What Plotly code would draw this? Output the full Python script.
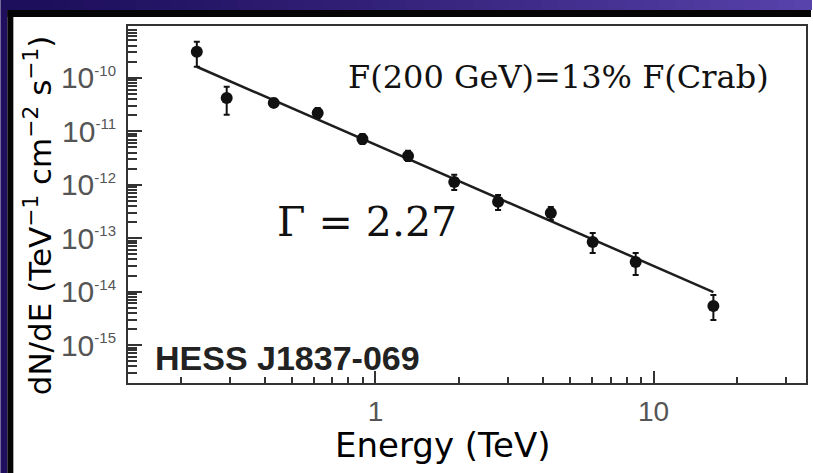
import math
import plotly.graph_objects as go

# HESS J1837-069 differential spectrum
energy_tev = [0.228, 0.292, 0.431, 0.62, 0.898, 1.31, 1.92, 2.76, 4.27, 6.04, 8.62, 16.4]
flux = [3.07e-10, 4.2e-11, 3.4e-11, 2.2e-11, 7.2e-12, 3.46e-12, 1.13e-12,
        4.8e-13, 2.96e-13, 8.5e-14, 3.58e-14, 5.4e-15]
flux_hi = [4.72e-10, 6.78e-11, 4.05e-11, 2.74e-11, 8.93e-12, 4.30e-12, 1.53e-12,
           6.44e-13, 3.84e-13, 1.25e-13, 5.28e-14, 8.63e-15]
flux_lo = [1.61e-10, 2.03e-11, 2.86e-11, 1.78e-11, 5.81e-12, 2.79e-12, 8.0e-13,
           3.37e-13, 2.19e-13, 5.28e-14, 2.05e-14, 2.94e-15]

# power-law fit: dN/dE = N0 * E^-gamma
gamma = 2.27
norm_1tev = 5.62e-12
fit_range = [0.228, 16.4]

x_ticks = [1, 10]
x_ticktext = ["1", "10"]
y_exponents = [-15, -14, -13, -12, -11, -10]
y_ticks = [10.0 ** e for e in y_exponents]
y_ticktext = ["10<sup><span style='font-size:15px'>{}</span></sup>".format(e)
              for e in y_exponents]

W, H = 813, 473
L, R, T, B = 128, 5, 26, 90
PW, PH = W - L - R, H - T - B


def px(x):
    return (x - L) / PW


def py(y):
    return (H - B - y) / PH


fit_y = [norm_1tev * e ** (-gamma) for e in fit_range]

fig = go.Figure()
fig.add_trace(go.Scatter(
    x=fit_range, y=fit_y, mode="lines",
    line=dict(color="#1e1e1e", width=2.5), hoverinfo="skip"))
fig.add_trace(go.Scatter(
    x=energy_tev, y=flux, mode="markers",
    marker=dict(color="#111111", size=12),
    error_y=dict(type="data", symmetric=False,
                 array=[h - f for h, f in zip(flux_hi, flux)],
                 arrayminus=[f - l for f, l in zip(flux, flux_lo)],
                 color="#111111", thickness=2, width=3)))

# slide frame: purple band on top and left, thin black border
shapes = []
n = 48
c0, c1 = (30, 15, 92), (88, 66, 172)
for i in range(n):
    t = i / (n - 1)
    col = "rgb({},{},{})".format(*[int(a + (b - a) * t ** 1.3) for a, b in zip(c0, c1)])
    shapes.append(dict(type="rect", xref="paper", yref="paper", layer="below",
                       x0=px(i * W / n), x1=px((i + 1) * W / n + 1),
                       y0=py(10), y1=py(0), line=dict(width=0), fillcolor=col))
shapes.append(dict(type="rect", xref="paper", yref="paper", layer="below",
                   x0=px(0), x1=px(7), y0=py(H), y1=py(10),
                   line=dict(width=0), fillcolor="rgb(32,15,95)"))
shapes.append(dict(type="rect", xref="paper", yref="paper", layer="below",
                   x0=px(7), x1=px(W), y0=py(17), y1=py(10),
                   line=dict(width=0), fillcolor="#050505"))
shapes.append(dict(type="rect", xref="paper", yref="paper", layer="below",
                   x0=px(7), x1=px(13), y0=py(H), y1=py(10),
                   line=dict(width=0), fillcolor="#050505"))

minor_x = [k * 10 ** d for d in (-1, 0, 1) for k in range(2, 10)]
minor_y = [k * 10 ** d for d in range(-16, -8) for k in range(2, 10)]


def label(x, y, text, family, size, color="#111", **kw):
    return dict(xref="paper", yref="paper", x=px(x), y=py(y), text=text,
                showarrow=False, xanchor=kw.pop("xanchor", "center"),
                yanchor="middle", font=dict(family=family, size=size, color=color), **kw)


fig.update_layout(
    width=W, height=H, margin=dict(l=L, r=R, t=T, b=B),
    paper_bgcolor="white", plot_bgcolor="white", showlegend=False,
    shapes=shapes,
    xaxis=dict(type="log", range=[math.log10(0.129), math.log10(35.3)],
               tickmode="array", tickvals=x_ticks, ticktext=x_ticktext,
               ticks="inside", ticklen=12, tickwidth=1.5, tickcolor="#333",
               minor=dict(tickmode="array", tickvals=minor_x, ticks="inside",
                          ticklen=6, tickwidth=1.5, tickcolor="#333", showgrid=False),
               showgrid=False, zeroline=False,
               showline=True, linecolor="#333", linewidth=2, mirror=True,
               ticklabelstandoff=2,
               tickfont=dict(family="Liberation Sans", size=28, color="#555")),
    yaxis=dict(type="log", range=[-15.71, -9.03],
               tickmode="array", tickvals=y_ticks, ticktext=y_ticktext,
               ticks="inside", ticklen=14, tickwidth=2, tickcolor="#333",
               minor=dict(tickmode="array", tickvals=minor_y, ticks="inside",
                          ticklen=9, tickwidth=1.5, tickcolor="#333", showgrid=False),
               showgrid=False, zeroline=False,
               showline=True, linecolor="#333", linewidth=2, mirror=True,
               ticklabelstandoff=4,
               tickfont=dict(family="Liberation Sans", size=30, color="#555")),
    annotations=[
        label(560, 77, "F(200 GeV)=13% F(Crab)", "DejaVu Serif", 32),
        label(368, 222, "Γ = 2.27", "DejaVu Serif", 41),
        label(153, 358, "<b>HESS J1837-069</b>", "Liberation Sans", 34,
              color="#222", xanchor="left"),
        label(444, 445, "Energy (TeV)", "DejaVu Sans", 34, color="#000"),
        label(38, 215, "dN/dE (TeV<sup>−1</sup> cm<sup>−2</sup> s<sup>−1</sup>)",
              "DejaVu Sans", 31, color="#000", textangle=-90),
    ],
)

fig.write_html("out.html")
